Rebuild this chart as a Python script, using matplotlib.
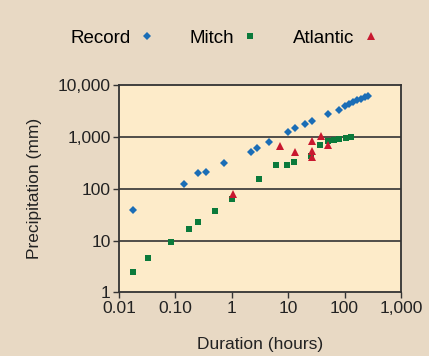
import numpy as np
import matplotlib.pyplot as plt
from matplotlib.ticker import FixedLocator, NullLocator

plt.rcParams['font.family'] = ['Liberation Sans', 'DejaVu Sans']

# world record rainfall (duration in hours, precipitation in mm)
record_hours = [0.0175, 0.14, 0.255, 0.343, 0.738, 2.23, 2.86, 4.6, 9.9, 13.1, 19.6, 26,
                51.6, 78.8, 101, 119, 140, 165, 194, 229, 259]
record_mm = [39.6, 126, 198, 206, 315, 500, 607, 800, 1220, 1476, 1790, 2015,
             2710, 3330, 4020, 4390, 4750, 5130, 5480, 5860, 6270]

# hurricane Mitch
mitch_hours = [0.0175, 0.033, 0.084, 0.174, 0.251, 0.51, 1.01, 3.06, 6.2, 9.6, 12.8,
               25.8, 37.2, 50, 65, 79.8, 105, 129]
mitch_mm = [2.47, 4.69, 9.55, 16.5, 22.5, 36.7, 62.7, 153, 284, 284, 330,
            425, 702, 817, 853, 893, 934, 1003]

# Atlantic storms
atlantic_hours = [1.05, 7.1, 13.1, 26, 26, 26, 38.3, 51.6]
atlantic_mm = [80.7, 662, 500, 817, 531, 412, 1033, 684]

xticks = [0.01, 0.1, 1, 10, 100, 1000]
xlabels = ['0.01', '0.10', '1', '10', '100', '1,000']
yticks = [1, 10, 100, 1000, 10000]
ylabels = ['1', '10', '100', '1,000', '10,000']

bg = '#E8D9C4'
panel = '#FDEBC9'
blue = '#1A6DB6'
green = '#0B7A3B'
red = '#C8182F'
dark = '#333333'

fig = plt.figure(figsize=(4.29, 3.56), dpi=100, facecolor=bg)
ax = fig.add_axes([0.2774, 0.1784, 0.9345 - 0.2774, 0.7612 - 0.1784])
ax.set_facecolor(panel)

ax.set_xscale('log')
ax.set_yscale('log')
ax.set_xlim(0.01, 1000)
ax.set_ylim(1, 10000)

for yv in yticks[1:-1]:
    ax.axhline(yv, color=dark, lw=1.2, zorder=1)

h1, = ax.plot(record_hours, record_mm, 'D', color=blue, ms=4.4, mew=0, zorder=3, label='Record')
h2, = ax.plot(mitch_hours, mitch_mm, 's', color=green, ms=4.4, mew=0, zorder=3, label='Mitch')
h3, = ax.plot(atlantic_hours, atlantic_mm, '^', color=red, ms=6.2, mew=0, zorder=4, label='Atlantic')

ax.xaxis.set_major_locator(FixedLocator(xticks))
ax.xaxis.set_minor_locator(NullLocator())
ax.set_xticklabels(xlabels)
ax.yaxis.set_major_locator(FixedLocator(yticks))
ax.yaxis.set_minor_locator(NullLocator())
ax.set_yticklabels(ylabels)
ax.tick_params(axis='both', direction='out', length=4, width=1, color=dark,
               labelsize=12.5, labelcolor='#222222', pad=2)

for s in ax.spines.values():
    s.set_color(dark)
    s.set_linewidth(1.3)

ax.set_xlabel('Duration (hours)', fontsize=12.5, color='#222222', labelpad=15)
ax.set_ylabel('Precipitation (mm)', fontsize=12.5, color='#222222', labelpad=11)

fig.legend(handles=[h1, h2, h3], loc='center', bbox_to_anchor=(0.525, 0.893),
           ncol=3, frameon=False, markerfirst=False, fontsize=13.5,
           handlelength=1.0, handletextpad=0.35, columnspacing=1.8)

fig.savefig('out.png', dpi=100, facecolor=bg)
